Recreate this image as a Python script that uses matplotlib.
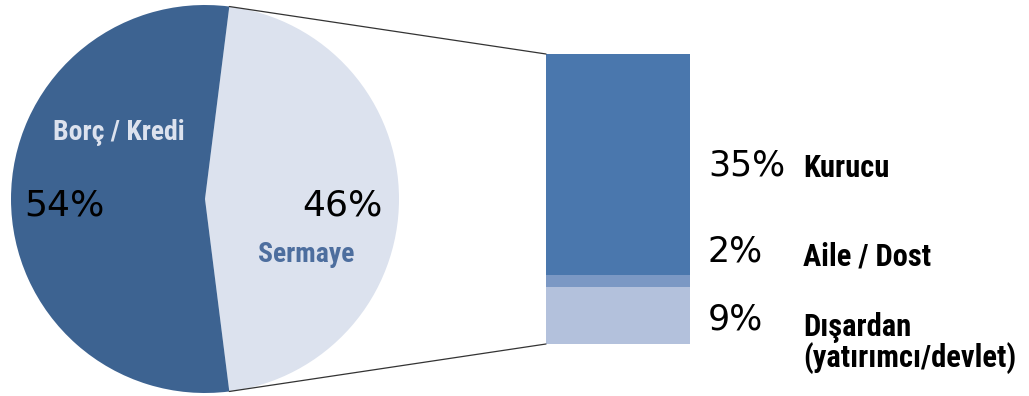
import numpy as np
import matplotlib.pyplot as plt
from matplotlib.patches import ConnectionPatch

# veri
pasta_etiket = ["Sermaye", "Borç / Kredi"]
pasta_deger = [46, 54]
pasta_renk = ["#dce2ee", "#3d6391"]

bar_etiket = ["Dışardan\n(yatırımcı/devlet)", "Aile / Dost", "Kurucu"]
bar_deger = [9, 2, 35]
bar_renk = ["#b3c1dc", "#7b98c4", "#4a77ad"]

dar = ["DejaVu Sans Condensed", "Roboto Condensed", "Roboto", "DejaVu Sans"]

fig = plt.figure(figsize=(10.29, 3.96), dpi=100)
ax = fig.add_axes([0, 0, 1, 1])

# pasta (piksel koordinatlari, y yukari)
baslangic = -pasta_deger[0] * 360 / 100 / 2
ax.pie(pasta_deger, colors=pasta_renk, startangle=baslangic, counterclock=True,
       center=(205, 197), radius=194, wedgeprops=dict(linewidth=0))
ax.set_xlim(0, 1029)
ax.set_ylim(0, 396)
ax.set_aspect("auto")
ax.axis("off")

ax.text(119, 396 - 133, pasta_etiket[1], color="#dce2ee", fontsize=20,
        fontweight="bold", family=dar, ha="center", va="center")
ax.text(24, 396 - 205, f"{pasta_deger[1]}%", color="black", fontsize=26,
        ha="left", va="center")
ax.text(383, 396 - 205, f"{pasta_deger[0]}%", color="black", fontsize=26,
        ha="right", va="center")
ax.text(306, 396 - 255, pasta_etiket[0], color="#4d6e9e", fontsize=20,
        fontweight="bold", family=dar, ha="center", va="center")

# yigilmis cubuk
bx = fig.add_axes([546 / 1029, (396 - 344) / 396, 144 / 1029, 290 / 396])
alt = 0
for d, r in zip(bar_deger, bar_renk):
    bx.bar(0, d, width=1, bottom=alt, color=r, linewidth=0)
    alt += d
bx.set_xlim(-0.5, 0.5)
bx.set_ylim(0, sum(bar_deger))
bx.axis("off")

# baglanti cizgileri
for aci, yb in [(-baslangic, 1), (baslangic, 0)]:
    xa = 205 + 194 * np.cos(np.radians(aci))
    ya = 197 + 194 * np.sin(np.radians(aci))
    con = ConnectionPatch(xyA=(xa, ya), coordsA=ax.transData,
                          xyB=(0, yb), coordsB=bx.transAxes,
                          color="#333333", linewidth=0.9)
    fig.add_artist(con)

# cubuk etiketleri
yuzde_y = [320, 252, 166]
etiket_y = [343, 256, 168]
for d, e, py, ey in zip(bar_deger, bar_etiket, yuzde_y, etiket_y):
    ax.text(708, 396 - py, f"{d}%", color="black", fontsize=25,
            ha="left", va="center")
    ax.text(803, 396 - ey, e, color="black", fontsize=22, fontweight="bold",
            family=dar, ha="left", va="center", linespacing=1.0)

fig.savefig("out.png", dpi=100)
